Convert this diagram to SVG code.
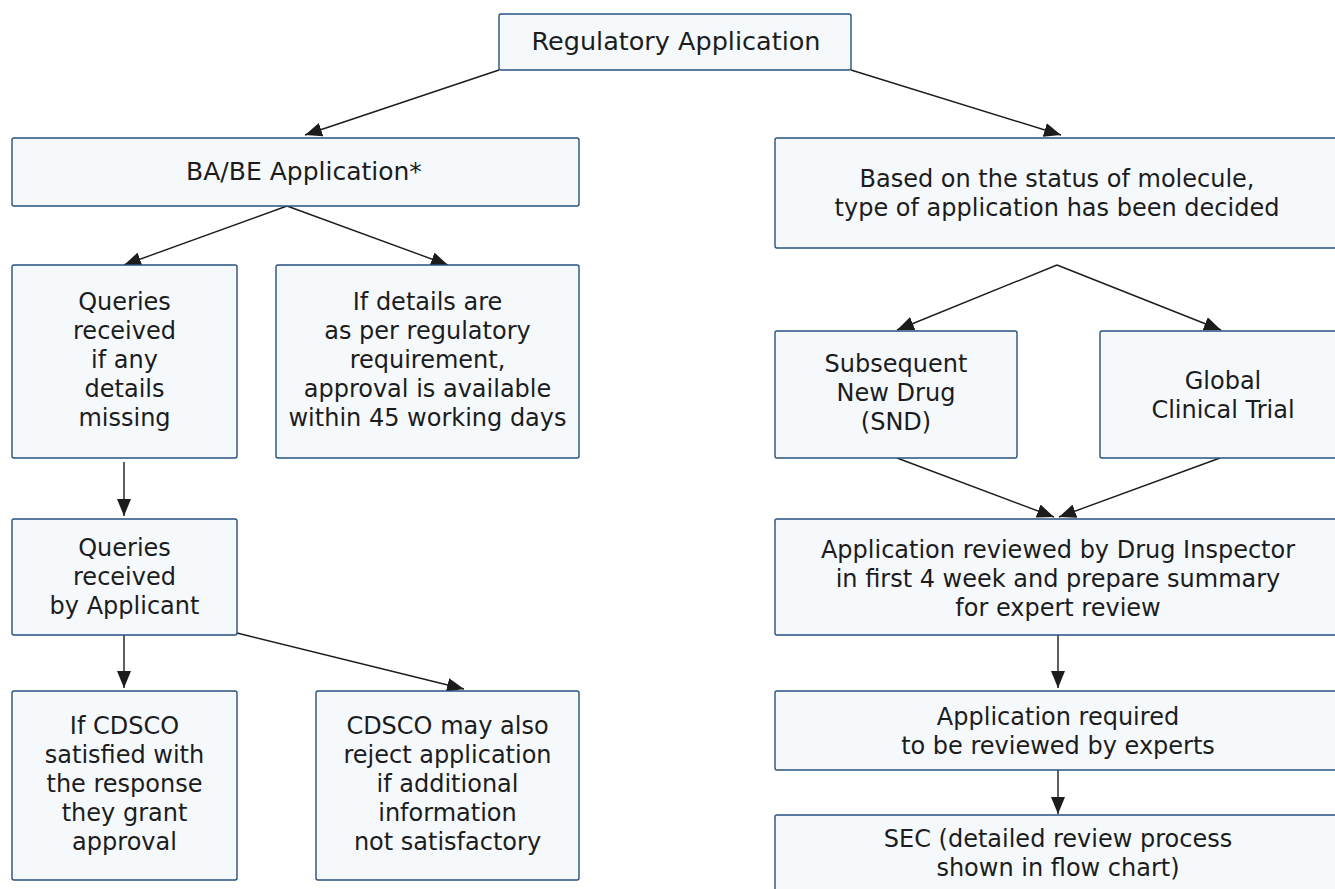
<svg xmlns="http://www.w3.org/2000/svg" width="1335" height="889" viewBox="0 0 1335 889">
  <style>
    .box { fill: #f5f9fc; stroke: #275180; stroke-width: 1.4; }
    .lbl { font-family: "DejaVu Sans", Verdana, sans-serif; font-size: 24px; fill: #1c1c1c; text-anchor: middle; }
    .edge { fill: none; stroke: #1c1c1c; stroke-width: 1.4; }
  </style>
  <defs>
    <marker id="arrow" markerUnits="userSpaceOnUse" markerWidth="18" markerHeight="14" refX="17" refY="7" orient="auto">
      <path d="M0,0 L17,7 L0,14 Z" fill="#1c1c1c"/>
    </marker>
  </defs>
  <rect width="1335" height="889" fill="#ffffff"/>

  <!-- connectors (drawn first so node boxes sit on top) -->
  <g id="connectors">
    <line class="edge" x1="499" y1="70" x2="305" y2="135" marker-end="url(#arrow)"/>
    <line class="edge" x1="851" y1="70" x2="1061" y2="135" marker-end="url(#arrow)"/>
    <line class="edge" x1="287" y1="206" x2="124" y2="265" marker-end="url(#arrow)"/>
    <line class="edge" x1="287" y1="206" x2="448" y2="265" marker-end="url(#arrow)"/>
    <line class="edge" x1="1057" y1="265" x2="897" y2="330" marker-end="url(#arrow)"/>
    <line class="edge" x1="1057" y1="265" x2="1221" y2="330" marker-end="url(#arrow)"/>
    <line class="edge" x1="897" y1="458" x2="1054" y2="517" marker-end="url(#arrow)"/>
    <line class="edge" x1="1220" y1="458" x2="1059" y2="517" marker-end="url(#arrow)"/>
    <line class="edge" x1="124" y1="462" x2="124" y2="516" marker-end="url(#arrow)"/>
    <line class="edge" x1="124" y1="635" x2="124" y2="688" marker-end="url(#arrow)"/>
    <line class="edge" x1="237" y1="633" x2="464" y2="689" marker-end="url(#arrow)"/>
    <line class="edge" x1="1058" y1="635" x2="1058" y2="688" marker-end="url(#arrow)"/>
    <line class="edge" x1="1058" y1="770" x2="1058" y2="814" marker-end="url(#arrow)"/>
  </g>

  <g id="regulatory-application">
    <rect class="box" x="499" y="14" width="352" height="56" rx="2"/>
    <text class="lbl" x="676" y="50" style="font-size:25.5px">Regulatory Application</text>
  </g>

  <g id="babe-application">
    <rect class="box" x="12" y="138" width="567" height="68" rx="2"/>
    <text class="lbl" x="304" y="180" style="font-size:25px">BA/BE Application*</text>
  </g>

  <g id="molecule-status">
    <rect class="box" x="775" y="138" width="566" height="110" rx="2"/>
    <text class="lbl" x="1057" y="187">Based on the status of molecule,</text>
    <text class="lbl" x="1057" y="216">type of application has been decided</text>
  </g>

  <g id="queries-missing">
    <rect class="box" x="12" y="265" width="225" height="193" rx="2"/>
    <text class="lbl" x="124.5" y="310">Queries</text>
    <text class="lbl" x="124.5" y="339">received</text>
    <text class="lbl" x="124.5" y="368">if any</text>
    <text class="lbl" x="124.5" y="397">details</text>
    <text class="lbl" x="124.5" y="426">missing</text>
  </g>

  <g id="details-ok">
    <rect class="box" x="276" y="265" width="303" height="193" rx="2"/>
    <text class="lbl" x="427.5" y="310">If details are</text>
    <text class="lbl" x="427.5" y="339">as per regulatory</text>
    <text class="lbl" x="427.5" y="368">requirement,</text>
    <text class="lbl" x="427.5" y="397">approval is available</text>
    <text class="lbl" x="427.5" y="426">within 45 working days</text>
  </g>

  <g id="snd">
    <rect class="box" x="775" y="331" width="242" height="127" rx="2"/>
    <text class="lbl" x="896" y="372">Subsequent</text>
    <text class="lbl" x="896" y="401">New Drug</text>
    <text class="lbl" x="896" y="430">(SND)</text>
  </g>

  <g id="global-clinical-trial">
    <rect class="box" x="1100" y="331" width="246" height="127" rx="2"/>
    <text class="lbl" x="1223" y="389">Global</text>
    <text class="lbl" x="1223" y="418">Clinical Trial</text>
  </g>

  <g id="queries-applicant">
    <rect class="box" x="12" y="519" width="225" height="116" rx="2"/>
    <text class="lbl" x="124.5" y="556">Queries</text>
    <text class="lbl" x="124.5" y="585">received</text>
    <text class="lbl" x="124.5" y="614">by Applicant</text>
  </g>

  <g id="drug-inspector-review">
    <rect class="box" x="775" y="519" width="566" height="116" rx="2"/>
    <text class="lbl" x="1058" y="558">Application reviewed by Drug Inspector</text>
    <text class="lbl" x="1058" y="587">in first 4 week and prepare summary</text>
    <text class="lbl" x="1058" y="616">for expert review</text>
  </g>

  <g id="cdsco-approval">
    <rect class="box" x="12" y="691" width="225" height="189" rx="2"/>
    <text class="lbl" x="124.5" y="734">If CDSCO</text>
    <text class="lbl" x="124.5" y="763">satisfied with</text>
    <text class="lbl" x="124.5" y="792">the response</text>
    <text class="lbl" x="124.5" y="821">they grant</text>
    <text class="lbl" x="124.5" y="850">approval</text>
  </g>

  <g id="cdsco-reject">
    <rect class="box" x="316" y="691" width="263" height="189" rx="2"/>
    <text class="lbl" x="447.5" y="734">CDSCO may also</text>
    <text class="lbl" x="447.5" y="763">reject application</text>
    <text class="lbl" x="447.5" y="792">if additional</text>
    <text class="lbl" x="447.5" y="821">information</text>
    <text class="lbl" x="447.5" y="850">not satisfactory</text>
  </g>

  <g id="expert-review">
    <rect class="box" x="775" y="691" width="566" height="79" rx="2"/>
    <text class="lbl" x="1058" y="725">Application required</text>
    <text class="lbl" x="1058" y="754">to be reviewed by experts</text>
  </g>

  <g id="sec">
    <rect class="box" x="775" y="815" width="566" height="90" rx="2"/>
    <text class="lbl" x="1058" y="847">SEC (detailed review process</text>
    <text class="lbl" x="1058" y="876">shown in flow chart)</text>
  </g>
</svg>
